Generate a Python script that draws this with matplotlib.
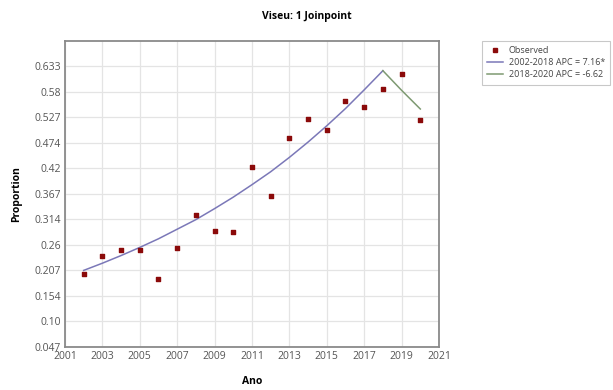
import matplotlib.pyplot as plt
from matplotlib.lines import Line2D

plt.rcParams["font.family"] = ["Open Sans", "DejaVu Sans"]

# dados observados
anos = list(range(2002, 2021))
observado = [0.200, 0.238, 0.250, 0.250, 0.188, 0.254, 0.323, 0.290, 0.288, 0.422,
             0.362, 0.483, 0.524, 0.501, 0.561, 0.549, 0.586, 0.617, 0.520]

# modelo joinpoint
anos_seg1 = list(range(2002, 2019))
modelo_seg1 = [0.207, 0.222, 0.238, 0.255, 0.273, 0.293, 0.313, 0.336, 0.360, 0.386,
               0.413, 0.443, 0.475, 0.509, 0.545, 0.584, 0.624]
anos_seg2 = [2018, 2019, 2020]
modelo_seg2 = [0.624, 0.583, 0.544]

yticks = [0.047, 0.1003, 0.1536, 0.207, 0.2602, 0.3135, 0.3668, 0.42, 0.4734, 0.5267, 0.58, 0.6333]
ytick_labels = ["0.047", "0.10", "0.154", "0.207", "0.26", "0.314", "0.367", "0.42",
                "0.474", "0.527", "0.58", "0.633"]
xticks = list(range(2001, 2022, 2))

fig = plt.figure(figsize=(6.13, 3.9), dpi=100)
ax = fig.add_axes([65 / 613, 1 - 347 / 390, (439 - 65) / 613, (347 - 41) / 390])

ax.plot(anos_seg1, modelo_seg1, color="#7b78b8", lw=1.1)
ax.plot(anos_seg2, modelo_seg2, color="#7e9a72", lw=1.1)
ax.scatter(anos, observado, marker="s", s=9, color="#8b0a0a", zorder=3)

ax.set_xlim(2001, 2021)
ax.set_ylim(0.047, 0.686)
ax.set_xticks(xticks)
ax.set_yticks(yticks)
ax.set_yticklabels(ytick_labels)
ax.tick_params(labelsize=7.5, colors="#555555", length=0, pad=3)
ax.grid(True, color="#e4e4e4", lw=0.9)
ax.set_axisbelow(True)
for s in ax.spines.values():
    s.set_color("#8a8a8a")
    s.set_linewidth(1.3)

ax.set_xlabel("Ano", fontsize=7.5, fontweight="bold", labelpad=10)
ax.set_ylabel("Proportion", fontsize=7.5, fontweight="bold", labelpad=9)
fig.text(307 / 613, 1 - 17 / 390, "Viseu: 1 Joinpoint", ha="center", va="center",
         fontsize=7.5, fontweight="bold")

handles = [
    Line2D([], [], marker="s", ls="none", color="#8b0a0a", markersize=2.5),
    Line2D([], [], color="#7b78b8", lw=1.1),
    Line2D([], [], color="#7e9a72", lw=1.1),
]
labels = ["Observed", "2002-2018 APC = 7.16*", "2018-2020 APC = -6.62"]
leg = fig.legend(handles, labels, loc="upper left", bbox_to_anchor=(477 / 613, 1 - 36 / 390),
                 fontsize=6.5, frameon=True, fancybox=False, handlelength=1.8,
                 handletextpad=0.6, labelspacing=0.35, borderpad=0.6, labelcolor="#444444")
leg.get_frame().set_edgecolor("#bbbbbb")
leg.get_frame().set_linewidth(0.8)

fig.savefig("out.png", dpi=100)
